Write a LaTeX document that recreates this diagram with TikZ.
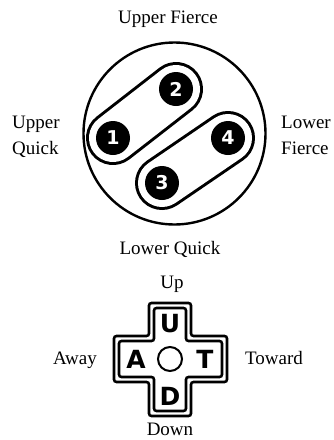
\documentclass[tikz,border=0pt]{standalone}
\usepackage{fontspec}
\setmainfont{Liberation Serif}
\newfontfamily\heavyfont{DejaVu Sans}
\begin{document}
\begin{tikzpicture}[x=1pt,y=-1pt,
  lbl/.style={font=\fontsize{19}{26}\selectfont, inner sep=0pt, anchor=base},
  lblw/.style={lbl, anchor=base west, align=left},
  btn/.style={circle, fill=black, minimum size=34pt, inner sep=0pt,
    text=white, font=\heavyfont\bfseries\fontsize{19}{19}\selectfont},
  padletter/.style={inner sep=0pt, font=\heavyfont\bfseries\fontsize{25}{25}\selectfont},
  pillout/.style={line width=54pt, line cap=round},
  pillin/.style={white, line width=48pt, line cap=round},
  padline/.style={line width=2.6pt, rounded corners=2.5pt}]
\useasboundingbox (0,0) rectangle (333,440);

% labels
\node[lbl] (uf) at (168,23) {Upper Fierce};
\node[lblw] (uq) at (12,128) {Upper};
\node[lblw] (uq2) at (12,154) {Quick};
\node[lblw] (lf) at (281,128) {Lower};
\node[lblw] (lf2) at (281,154) {Fierce};
\node[lbl] (lq) at (170,254) {Lower Quick};

% big circle
\node[circle, draw, line width=2.4pt, minimum size=182pt, inner sep=0pt] (ring) at (174.5,133.5) {};

% button centers
\coordinate (c1) at (113,138);
\coordinate (c2) at (176,89);
\coordinate (c3) at (162,183);
\coordinate (c4) at (228,138);

% pills
\draw[pillout] (c1) -- (c2);
\draw[pillin] (c1) -- (c2);
\draw[pillout] (c3) -- (c4);
\draw[pillin] (c3) -- (c4);

% buttons
\node[btn] (b1) at (c1) {1};
\node[btn] (b2) at (c2) {2};
\node[btn] (b3) at (c3) {3};
\node[btn] (b4) at (c4) {4};

% d-pad labels
\node[lbl] (up) at (172,288) {Up};
\node[lbl] (away) at (75,364) {Away};
\node[lbl] (toward) at (274,364) {Toward};
\node[lbl] (down) at (170,435) {Down};

% d-pad cross outer
\draw[padline] (149,303) -- (191,303) -- (191,336) -- (227,336) -- (227,382) -- (191,382)
  -- (191,416) -- (149,416) -- (149,382) -- (114,382) -- (114,336) -- (149,336) -- cycle;
% d-pad cross inner
\draw[padline] (154,308) -- (186,308) -- (186,341) -- (222,341) -- (222,377) -- (186,377)
  -- (186,411) -- (154,411) -- (154,377) -- (119,377) -- (119,341) -- (154,341) -- cycle;

\node[padletter] (U) at (170,324) {U};
\node[padletter] (A) at (136,359) {A};
\node[padletter] (T) at (205,359) {T};
\node[padletter] (D) at (170,396) {D};
\node[circle, draw, line width=2pt, minimum size=24pt, inner sep=0pt] (mid) at (170,359) {};
\end{tikzpicture}
\end{document}
